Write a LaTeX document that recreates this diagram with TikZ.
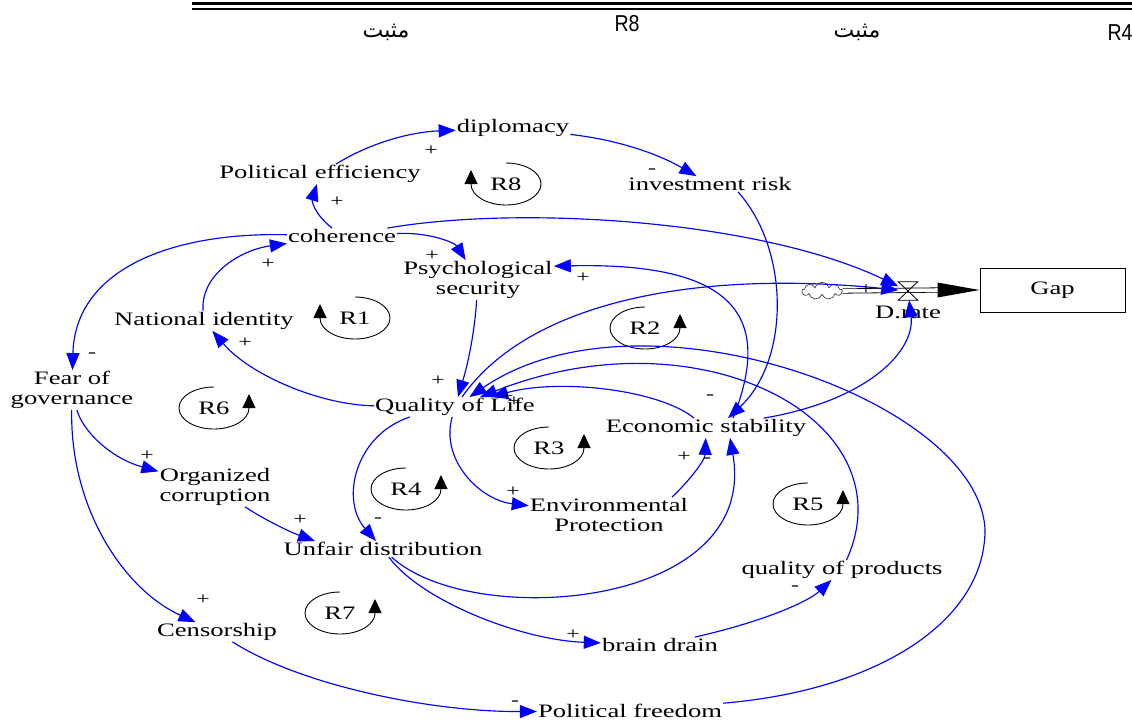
\documentclass[tikz,border=0pt]{standalone}
\usepackage{fontspec}
\setmainfont{Liberation Serif}[FakeStretch=1.4]
\newfontfamily\arabicfont[Script=Arabic]{DejaVu Sans}
\newfontfamily\hdrfont[FakeStretch=0.85]{Liberation Sans}
\TeXXeTstate=1
\usetikzlibrary{arrows.meta,shapes.symbols}
\begin{document}
\begin{tikzpicture}[x=1pt,y=-1pt,
  var/.style={font=\fontsize{19}{20}\selectfont, inner sep=1pt, align=center},
  sgn/.style={font=\fontsize{17}{17}\selectfont, inner sep=0pt},
  hdr/.style={font=\hdrfont\fontsize{23}{23}\selectfont, inner sep=0pt},
  link/.style={color=blue, line width=1.15pt, -{Triangle[length=17pt,width=13pt]}},
  loopline/.style={black, line width=0.9pt, -{Triangle[length=14pt,width=13pt]}},
  pipe/.style={black, line width=0.8pt, double, double distance=3.6pt},
  loopr/.pic={\begin{scope}[y=1pt]
     \draw[loopline] (0,21) arc[start angle=90, end angle=360, x radius=35, y radius=21] -- ++(0,14);
     \node[var] (-lbl) at (0,0) {#1};
   \end{scope}},
  loopl/.pic={\begin{scope}[y=1pt]
     \draw[loopline] (0,21) arc[start angle=90, end angle=-180, x radius=35, y radius=21] -- ++(0,14);
     \node[var] (-lbl) at (0,0) {#1};
   \end{scope}}
]
\useasboundingbox (0,0) rectangle (1132,720);
% header
\draw[line width=3.4pt] (192,3.7) -- (1132,3.7);
\draw[line width=1.6pt] (192,8.8) -- (1132,8.8);
\node[inner sep=0pt] (h1) at (386,32) {\arabicfont\fontsize{22}{22}\selectfont\beginR مثبت\endR};
\node[hdr] (h2) at (627,24) {R8};
\node[inner sep=0pt] (h3) at (857,32) {\arabicfont\fontsize{22}{22}\selectfont\beginR مثبت\endR};
\node[hdr] (h4) at (1120,33) {R4};

% variables
\node[var] (dip) at (513,128) {diplomacy};
\node[var] (pe)  at (320,174) {Political efficiency};
\node[var] (ir)  at (710,184) {investment risk};
\node[var] (coh) at (342,236) {coherence};
\node[var] (ps)  at (478,280) {Psychological\\security};
\node[var] (ni)  at (204,321) {National identity};
\node[var] (fg)  at (72,390) {Fear of\\governance};
\node[var] (qol) at (455,407) {Quality of Life};
\node[var] (es)  at (706,428) {Economic stability};
\node[var] (oc)  at (215,487) {Organized\\corruption};
\node[var] (ep)  at (609,515) {Environmental\\Protection};
\node[var] (ud)  at (383,549) {Unfair distribution};
\node[var] (qp)  at (842,570) {quality of products};
\node[var] (cen) at (217,632) {Censorship};
\node[var] (bd)  at (660,645) {brain drain};
\node[var] (pf)  at (630,711) {Political freedom};

% stock and flow
\node[var, draw, line width=1pt, minimum width=145pt, minimum height=44pt] (gap) at (1052.5,290) {Gap};
\node[minimum width=19pt, minimum height=18pt, inner sep=0pt] (valve) at (908,291) {};
\node[cloud, draw=black!75, line width=0.7pt, cloud puffs=9, aspect=2.4, minimum width=40pt, minimum height=17pt, inner sep=0pt] (cloud) at (822,291) {};
\node[var] (drate) at (908,312) {D.rate};
\draw[pipe] (cloud.east) -- ([xshift=-40pt]gap.west);
\fill[black] (gap.west) -- ++(-42,-7.5) -- ++(0,15) -- cycle;
\draw[black, line width=0.8pt] (valve.north west) -- (valve.north east) -- (valve.south west) -- (valve.south east) -- cycle;

% loops
\pic (r8) at (506,184) {loopl=R8};
\pic (r1) at (355,318) {loopl=R1};
\pic (r6) at (214,408) {loopr=R6};
\pic (r2) at (645,328) {loopr=R2};
\pic (r3) at (549,448) {loopr=R3};
\pic (r4) at (406,489) {loopr=R4};
\pic (r5) at (808,504) {loopr=R5};
\pic (r7) at (340,613) {loopr=R7};

% links
\draw[link] (pe) .. controls (370,143) and (410,132) .. (dip);
\draw[link] (coh) .. controls (313,213) and (312,200) .. (pe);
\draw[link] (dip) .. controls (620,140) and (660,155) .. (ir);
\draw[link] ([xshift=28pt]ir.south) .. controls (790,250) and (790,360) .. ([xshift=22pt]es.north);
\draw[link] (coh) .. controls (430,232) and (455,243) .. (ps);
\draw[link] (coh) .. controls (520,205) and (760,220) .. (valve);
\draw[link] (coh) .. controls (170,232) and (75,270) .. (fg);
\draw[link] (ni) .. controls (200,275) and (240,250) .. (coh);
\draw[link] (qol) .. controls (320,405) and (250,375) .. (ni);
\draw[link] (ps) .. controls (474,340) and (466,370) .. (qol);
\draw[link] ([xshift=27pt]es.north) .. controls (772,320) and (740,262) .. ([yshift=-6pt]ps.north east);
\draw[link] (es) .. controls (660,390) and (560,378) .. (qol);
\draw[link] (qp) .. controls (910,420) and (700,310) .. (qol);
\draw[link] (pf) .. controls (880,690) and (985,620) .. (985,530) .. controls (980,400) and (640,280) .. (qol);
\draw[link] (qol) .. controls (530,300) and (700,270) .. (valve);
\draw[link] (es) .. controls (870,400) and (915,350) .. (valve);
\draw[link] ([xshift=63pt]ep.north) .. controls (690,480) and (705,460) .. (es);
\draw[link] (ud) .. controls (470,630) and (760,610) .. ([xshift=24pt]es.south);
\draw[link] (qol) .. controls (440,460) and (480,500) .. (ep);
\draw[link] ([xshift=-45pt]qol.south) .. controls (355,435) and (340,500) .. (ud);
\draw[link] (fg) .. controls (82,430) and (110,458) .. (oc);
\draw[link] (oc) .. controls (265,520) and (290,532) .. ([xshift=-68pt]ud.north);
\draw[link] (fg) .. controls (70,510) and (125,590) .. (cen);
\draw[link] (cen) .. controls (300,685) and (430,712) .. (pf);
\draw[link] (ud) .. controls (420,600) and (520,640) .. (bd);
\draw[link] (bd) .. controls (770,620) and (810,600) .. (qp);

% polarity signs
\node[sgn] (s1) at (431,151) {+};
\node[sgn] (s2) at (337,202) {+};
\node[sgn] (s3) at (652,171) {-};
\node[sgn] (s4) at (432,256) {+};
\node[sgn] (s5) at (268,264) {+};
\node[sgn] (s6) at (92,355) {-};
\node[sgn] (s7) at (245,343) {+};
\node[sgn] (s8) at (438,381) {+};
\node[sgn] (s9) at (583,278) {+};
\node[sgn] (s10) at (710,397) {-};
\node[sgn] (s11) at (507,397) {+};
\node[sgn] (s12) at (514,402) {+};
\node[sgn] (s13) at (866,290) {+};
\node[sgn] (s14) at (513,492) {+};
\node[sgn] (s15) at (378,520) {-};
\node[sgn] (s16) at (147,456) {+};
\node[sgn] (s17) at (300,520) {+};
\node[sgn] (s18) at (684,457) {+};
\node[sgn] (s19) at (707,460) {-};
\node[sgn] (s20) at (203,600) {+};
\node[sgn] (s21) at (573,635) {+};
\node[sgn] (s22) at (795,588) {-};
\node[sgn] (s23) at (515,703) {-};
\end{tikzpicture}
\end{document}
